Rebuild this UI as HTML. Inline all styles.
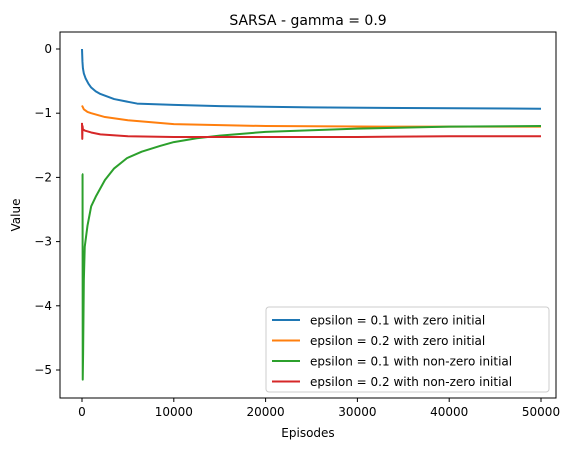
<!DOCTYPE html>
<html><head><meta charset="utf-8"><style>
body{margin:0;background:#fff;font-family:"Liberation Sans","DejaVu Sans",sans-serif}
text{font-family:"DejaVu Sans","Liberation Sans",sans-serif}
</style></head><body>
<svg id="chart" width="565" height="455" xmlns="http://www.w3.org/2000/svg"></svg>
<script>
const xTicks=[0,10000,20000,30000,40000,50000];
const yTicks=[0,-1,-2,-3,-4,-5];
const seriesNames=["epsilon = 0.1 with zero initial","epsilon = 0.2 with zero initial","epsilon = 0.1 with non-zero initial","epsilon = 0.2 with non-zero initial"];
const seriesColors=["#1f77b4","#ff7f0e","#2ca02c","#d62728"];
const blueX=[0,50,100,200,400,700,1000,1500,2000,3500,6000,10000,15000,25000,35000,50000];
const blueY=[0,-0.2,-0.3,-0.38,-0.46,-0.54,-0.6,-0.66,-0.7,-0.78,-0.85,-0.87,-0.89,-0.91,-0.92,-0.93];
const orangeX=[0,200,600,1000,2500,5000,10000,20000,35000,50000];
const orangeY=[-0.88,-0.94,-0.98,-1.0,-1.06,-1.11,-1.17,-1.2,-1.21,-1.21];
const greenX=[0,60,80,120,200,300,600,1000,1500,2500,3500,4900,6500,8500,10000,12500,15000,20000,30000,40000,50000];
const greenY=[-1.95,-1.95,-5.15,-4.75,-3.6,-3.08,-2.75,-2.45,-2.3,-2.04,-1.86,-1.7,-1.6,-1.51,-1.45,-1.39,-1.35,-1.29,-1.24,-1.21,-1.2];
const redX=[0,30,60,100,300,1000,2000,5000,10000,20000,30000,40000,50000];
const redY=[-1.15,-1.4,-1.2,-1.25,-1.27,-1.3,-1.33,-1.36,-1.37,-1.37,-1.37,-1.36,-1.36];
const data=[[blueX,blueY],[orangeX,orangeY],[greenX,greenY],[redX,redY]];
const NS="http://www.w3.org/2000/svg";
const svg=document.getElementById('chart');
const L=60,R=556,T=32,B=398;
const sx=v=>82+v*0.00918;
const sy=v=>49-v*64.2;
function el(t,a,p){const e=document.createElementNS(NS,t);for(const k in a)e.setAttribute(k,a[k]);(p||svg).appendChild(e);return e;}
data.forEach((d,i)=>{
 let pts=d[0].map((x,j)=>sx(x).toFixed(2)+','+sy(d[1][j]).toFixed(2)).join(' ');
 const pl=el('polyline',{points:pts,fill:'none',stroke:seriesColors[i],'stroke-width':2,'stroke-linejoin':'round'});
 
 
});
const fr=el('rect',{x:L,y:T,width:R-L,height:B-T,fill:'none',stroke:'#000','stroke-width':1});


xTicks.forEach(v=>{
 el('line',{x1:sx(v),x2:sx(v),y1:B,y2:B+4,stroke:'#000'});
 const t=el('text',{x:sx(v),y:B+18,'font-size':12,'text-anchor':'middle'});t.textContent=v;
 
 
});
yTicks.forEach(v=>{
 el('line',{x1:L-4,x2:L,y1:sy(v),y2:sy(v),stroke:'#000'});
 const t=el('text',{x:L-8,y:sy(v)+4,'font-size':12,'text-anchor':'end'});t.textContent=v===0?'0':'\u2212'+(-v);
 
 
});
let t=el('text',{x:(L+R)/2,y:437,'font-size':12,'text-anchor':'middle'});t.textContent='Episodes';


t=el('text',{x:20,y:(T+B)/2,'font-size':12,'text-anchor':'middle',transform:`rotate(-90 20 ${(T+B)/2})`});t.textContent='Value';


t=el('text',{x:(L+R)/2,y:25,'font-size':14,'text-anchor':'middle'});t.textContent='SARSA - gamma = 0.9';


const lg=el('rect',{x:266,y:307,width:283,height:85,rx:3,fill:'#fff','fill-opacity':0.8,stroke:'#ccc'});


seriesNames.forEach((n,i)=>{
 const y=320+i*20.5;
 el('line',{x1:272,x2:300,y1:y,y2:y,stroke:seriesColors[i],'stroke-width':2});
 const tx=el('text',{x:310,y:y+4.5,'font-size':12});tx.textContent=n;
 
 
});
</script>
</body></html>
